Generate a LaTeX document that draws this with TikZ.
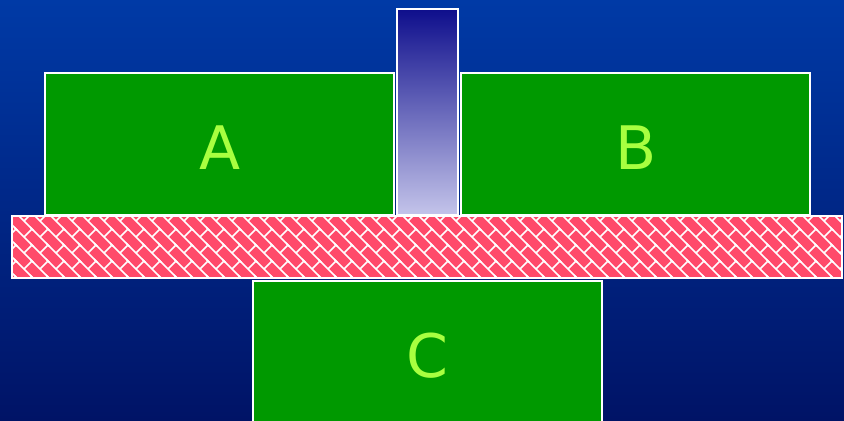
\documentclass[tikz,border=0pt]{standalone}
\usepackage{fontspec}
\setmainfont{DejaVu Sans}
\usepackage{xcolor}
\usepackage{tikz}
\usetikzlibrary{patterns}
\definecolor{bgtop}{HTML}{003AA6}
\definecolor{bgbottom}{HTML}{001366}
\definecolor{boxgreen}{HTML}{009900}
\definecolor{labelgreen}{HTML}{A8FF40}
\definecolor{barpink}{HTML}{FF4A6A}
\definecolor{posttop}{HTML}{0E0E8C}
\definecolor{postbottom}{HTML}{C4C4EA}

% Ziegelmuster (diagonal)
\pgfdeclarepatternformonly{diagbricks}{\pgfqpoint{-1pt}{-1pt}}{\pgfqpoint{9pt}{9pt}}{\pgfqpoint{8pt}{8pt}}{
  \pgfsetlinewidth{0.8pt}
  \pgfpathmoveto{\pgfqpoint{-1pt}{9pt}}
  \pgfpathlineto{\pgfqpoint{9pt}{-1pt}}
  \pgfpathmoveto{\pgfqpoint{4pt}{4pt}}
  \pgfpathlineto{\pgfqpoint{8pt}{8pt}}
  \pgfusepath{stroke}
}

\begin{document}
\begin{tikzpicture}[x=0.5pt, y=-0.5pt,
    block/.style={draw=white, line width=1pt, fill=boxgreen, inner sep=0pt,
      minimum width=174.5pt, minimum height=71pt},
    blocklabel/.style={text=labelgreen, font=\fontsize{30}{30}\selectfont},
    hatchbar/.style={draw=white, line width=1pt, fill=barpink, inner sep=0pt,
      postaction={pattern=diagbricks, pattern color=white}},
    post/.style={draw=white, line width=1pt, inner sep=0pt,
      top color=posttop, bottom color=postbottom}
]

  % Hintergrund
  \clip (0,0) rectangle (844,421);
  \shade[top color=bgtop, bottom color=bgbottom] (0,0) rectangle (844,421);

  % Balken und Stift
  \node[hatchbar, minimum width=415pt, minimum height=31pt] (bar) at (427,247) {};
  \node[post, minimum width=30.5pt, minimum height=103pt] (pin) at (427.5,112) {};

  % Bloecke
  \node[block] (A) at (219.5,144) {};
  \node[block] (B) at (635.5,144) {};
  \node[block, minimum height=75pt] (C) at (427.5,356) {};

  % Beschriftungen
  \node[blocklabel] (Alabel) at (220,148) {A};
  \node[blocklabel] (Blabel) at (636,148) {B};
  \node[blocklabel] (Clabel) at (427.5,356) {C};

\end{tikzpicture}
\end{document}
